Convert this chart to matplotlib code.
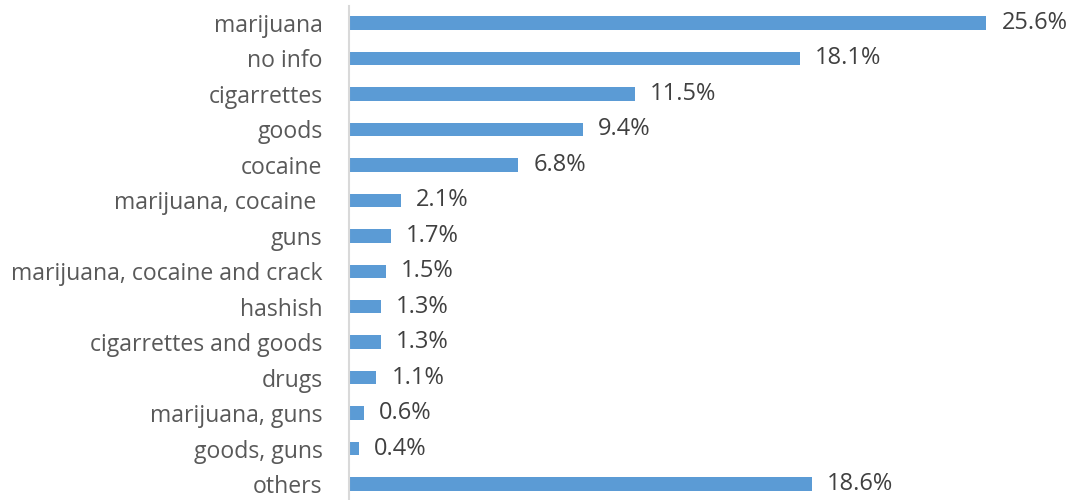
import matplotlib.pyplot as plt

categories = ["marijuana", "no info", "cigarrettes", "goods", "cocaine",
              "marijuana, cocaine ", "guns", "marijuana, cocaine and crack",
              "hashish", "cigarrettes and goods", "drugs", "marijuana, guns",
              "goods, guns", "others"]
shares = [25.6, 18.1, 11.5, 9.4, 6.8, 2.1, 1.7, 1.5, 1.3, 1.3, 1.1, 0.6, 0.4, 18.6]

plt.rcParams['font.family'] = ['Open Sans', 'DejaVu Sans']

fig = plt.figure(figsize=(10.73, 5.0), dpi=100)
ax = fig.add_axes([349 / 1073, 0.0, 712 / 1073, 494 / 500])

pos = list(range(len(categories)))
ax.barh(pos, shares, height=0.38, color='#5B9BD5')
for y, v in zip(pos, shares):
    ax.text(v + 0.6, y, f"{v:.1f}%", va='center', ha='left',
            fontsize=17, color='#404040')

ax.set_xlim(0, 712 / 24.9)
ax.set_ylim(13.45, -0.48)
ax.set_yticks(pos)
ax.set_yticklabels(categories, fontsize=16.6, color='#595959')
ax.tick_params(axis='y', length=0, pad=19)
ax.set_xticks([])
for s in ['top', 'right', 'bottom']:
    ax.spines[s].set_visible(False)
ax.spines['left'].set_color('#d9d9d9')
ax.spines['left'].set_linewidth(1.5)

fig.savefig('out.png', dpi=100)
